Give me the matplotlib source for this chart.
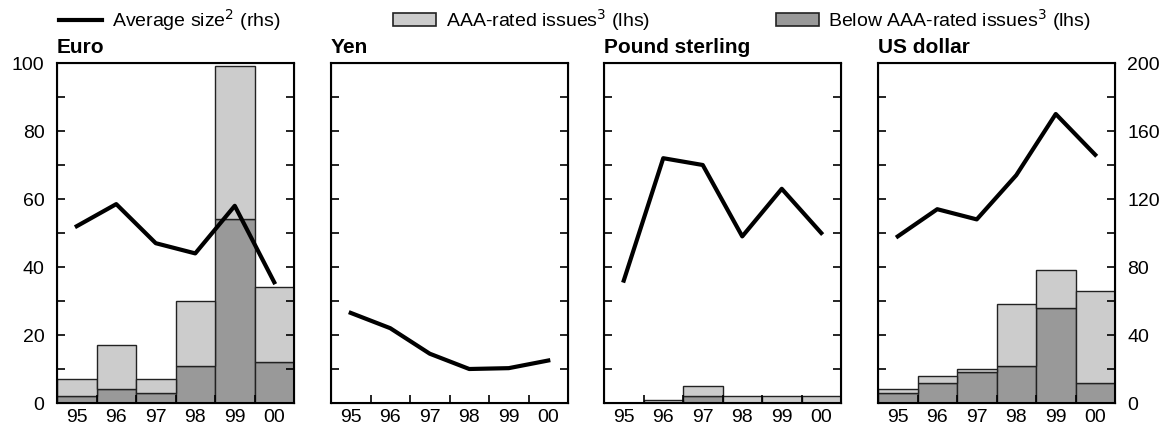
import numpy as np
import matplotlib.pyplot as plt
from matplotlib.lines import Line2D
from matplotlib.patches import Patch

plt.rcParams['font.family'] = ['Liberation Sans', 'DejaVu Sans']

years = ['95', '96', '97', '98', '99', '00']
panels = ['Euro', 'Yen', 'Pound sterling', 'US dollar']

# bars (lhs): total issues and below-AAA part
total = {
    'Euro': [7, 17, 7, 30, 99, 34],
    'Yen': [0, 0, 0, 0, 0, 0],
    'Pound sterling': [0, 1, 5, 2, 2, 2],
    'US dollar': [4, 8, 10, 29, 39, 33],
}
below = {
    'Euro': [2, 4, 3, 11, 54, 12],
    'Yen': [0, 0, 0, 0, 0, 0],
    'Pound sterling': [0, 0, 2, 0, 0, 0],
    'US dollar': [3, 6, 9, 11, 28, 6],
}
# average size (rhs)
avg_size = {
    'Euro': [104, 117, 94, 88, 116, 71],
    'Yen': [53, 44, 29, 20, 20.5, 25],
    'Pound sterling': [72, 144, 140, 98, 126, 100],
    'US dollar': [98, 114, 108, 134, 170, 146],
}

light = '#cccccc'
dark = '#999999'
edge = '#222222'

fig = plt.figure(figsize=(11.68, 4.29), dpi=100)
lefts = [57, 331, 604, 878]
x = np.arange(len(years))

for i, name in enumerate(panels):
    ax = fig.add_axes([lefts[i] / 1168, 26 / 429, 237 / 1168, 340 / 429])
    tot = np.array(total[name])
    bel = np.array(below[name])
    ax.bar(x, bel, width=1.0, color=dark, edgecolor=edge, linewidth=1)
    ax.bar(x, tot - bel, bottom=bel, width=1.0, color=light,
           edgecolor=edge, linewidth=1)
    ax.set_xlim(-0.5, 5.5)
    ax.set_ylim(0, 100)
    ax.set_yticks(np.arange(0, 101, 10))
    ax.set_yticklabels(['' if v % 20 else str(v) for v in range(0, 101, 10)])
    ax.set_xticks(x)
    ax.set_xticklabels(years)
    ax.set_xticks(np.arange(0.5, 5, 1), minor=True)
    ax.tick_params(axis='x', which='major', length=0, labelsize=14, pad=4)
    ax.tick_params(axis='x', which='minor', direction='in', length=6, width=1.2)
    ax.tick_params(axis='y', direction='in', length=6, width=1.2, labelsize=14,
                   pad=9, left=True, right=True, labelleft=(i == 0))
    for s in ax.spines.values():
        s.set_linewidth(1.5)

    ax2 = ax.twinx()
    ax2.plot(x, avg_size[name], color='black', linewidth=3)
    ax2.set_ylim(0, 200)
    ax2.set_yticks(np.arange(0, 201, 20))
    ax2.set_yticklabels(['' if v % 40 else str(v) for v in range(0, 201, 20)])
    ax2.tick_params(axis='y', direction='in', length=6, width=1.2, labelsize=14,
                    pad=9, labelright=(i == 3))
    ax.set_title(name, loc='left', fontweight='bold', fontsize=15, pad=7)

handles = [
    Line2D([], [], color='black', linewidth=3),
    Patch(facecolor=light, edgecolor=edge, linewidth=1.2),
    Patch(facecolor=dark, edgecolor=edge, linewidth=1.2),
]
labels = ['Average size$^2$ (rhs)', 'AAA-rated issues$^3$ (lhs)',
          'Below AAA-rated issues$^3$ (lhs)']
leg_x = [59, 393, 776]
for h, lab, lx in zip(handles, labels, leg_x):
    fig.legend([h], [lab], loc='center left',
               bbox_to_anchor=(lx / 1168, 1 - 20 / 429), frameon=False,
               fontsize=14, handlelength=2.2, handleheight=0.65,
               handletextpad=0.5, borderpad=0, borderaxespad=0)

fig.savefig('out.png', dpi=100)
